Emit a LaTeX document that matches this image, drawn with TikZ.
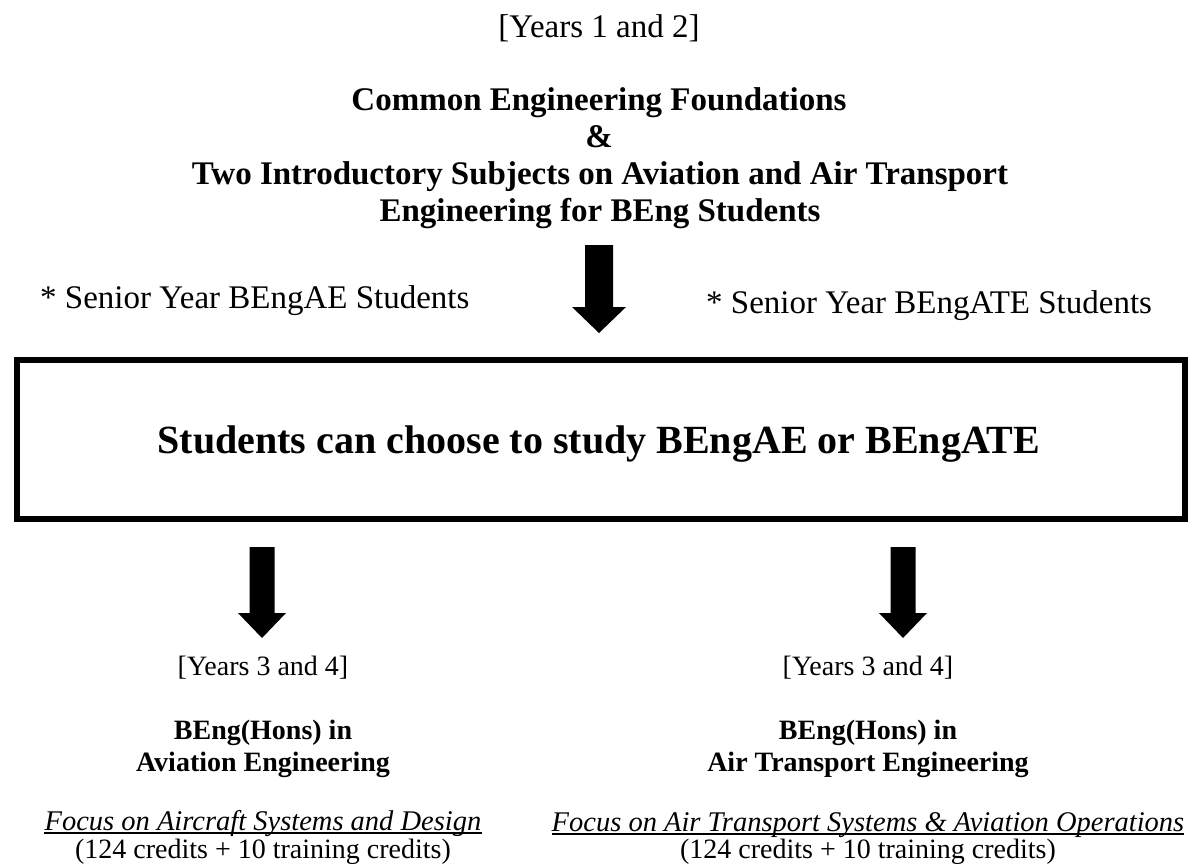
\documentclass[tikz,border=0pt]{standalone}
\usepackage{fontspec}
\setmainfont{Liberation Serif}
\usetikzlibrary{calc}
\begin{document}
\begin{tikzpicture}[x=1pt,y=-1pt,
  lbl/.style={inner sep=0pt, anchor=base},
  toptext/.style={lbl, font=\fontsize{33}{37}\selectfont\bfseries},
  sidetext/.style={lbl, anchor=base west, font=\fontsize{33}{37}\selectfont},
  smalltext/.style={lbl, font=\fontsize{28}{32}\selectfont},
  smallbold/.style={lbl, font=\fontsize{28}{32}\selectfont\bfseries},
  smallital/.style={lbl, font=\fontsize{28.5}{32}\selectfont\itshape},
  uline/.style={line width=1.6pt},
  bigarrow/.style n args={3}{to path={let \p1=(\tikztostart), \p2=(\tikztotarget) in
     (\x1-#1,\y1) -- (\x1+#1,\y1) -- (\x1+#1,\y2+#3) -- (\x1+#2,\y2+#3) -- (\x2,\y2)
     -- (\x1-#2,\y2+#3) -- (\x1-#1,\y2+#3) -- cycle}},
]
\useasboundingbox[fill=white] (0,0) rectangle (1192,865);

% top block
\node[lbl, font=\fontsize{33}{37}\selectfont] (yr12) at (599,37) {[Years 1 and 2]};
\node[toptext] (t1) at (599,110) {Common Engineering Foundations};
\node[toptext] (t2) at (599,147) {\&};
\node[toptext] (t3) at (600,184) {Two Introductory Subjects on Aviation and Air Transport};
\node[toptext] (t4) at (600,221) {Engineering for BEng Students};

% side notes
\node[sidetext] (sae) at (40,308) {* Senior Year BEngAE Students};
\node[sidetext] (sate) at (706,313) {* Senior Year BEngATE Students};

% main box
\node[draw, line width=6pt, minimum width=1168pt, minimum height=159pt, inner sep=0pt] (box) at (601,439.5) {};
\node[lbl, font=\fontsize{40}{44}\selectfont\bfseries] (choice) at (599,453) {Students can choose to study BEngAE or BEngATE};

% arrows
\coordinate (a1s) at (599,245);
\coordinate (a1e) at (599,333);
\fill (a1s) to[bigarrow={14pt}{27pt}{26pt}] (a1e);
\coordinate (a2s) at (262,547);
\coordinate (a2e) at (262,638);
\fill (a2s) to[bigarrow={12.5pt}{24pt}{25pt}] (a2e);
\coordinate (a3s) at (903,547);
\coordinate (a3e) at (903,638);
\fill (a3s) to[bigarrow={12.5pt}{24pt}{25pt}] (a3e);

% left column
\node[smalltext] (lyr) at (263,675) {[Years 3 and 4]};
\node[smallbold] (lb1) at (263,739) {BEng(Hons) in};
\node[smallbold] (lb2) at (263,771) {Aviation Engineering};
\node[smallital] (lf) at (263,830) {Focus on Aircraft Systems and Design};
\draw[uline] ([yshift=-3pt]lf.base west) -- ([yshift=-3pt]lf.base east);
\node[smalltext] (lc) at (263,858) {(124 credits + 10 training credits)};

% right column
\node[smalltext] (ryr) at (868,675) {[Years 3 and 4]};
\node[smallbold] (rb1) at (868,739) {BEng(Hons) in};
\node[smallbold] (rb2) at (868,771) {Air Transport Engineering};
\node[smallital] (rf) at (868,831) {Focus on Air Transport Systems \& Aviation Operations};
\draw[uline] ([yshift=-3pt]rf.base west) -- ([yshift=-3pt]rf.base east);
\node[smalltext] (rc) at (868,858.5) {(124 credits + 10 training credits)};
\end{tikzpicture}
\end{document}
